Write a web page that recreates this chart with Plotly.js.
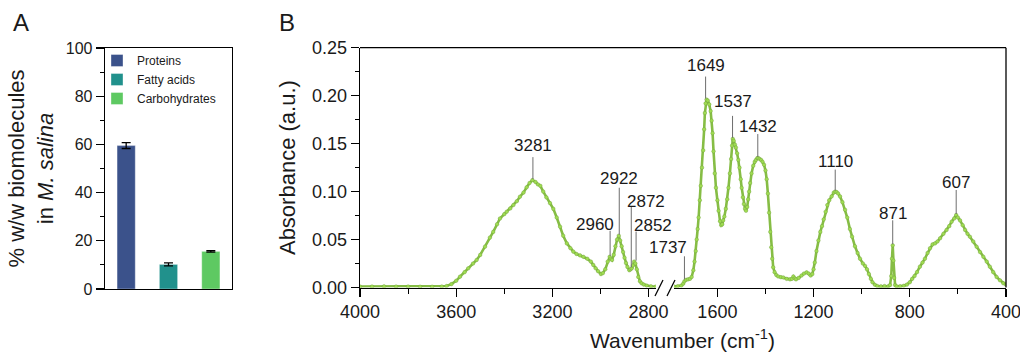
<!DOCTYPE html>
<html>
<head>
<meta charset="utf-8">
<script src="https://cdn.plot.ly/plotly-3.0.1.min.js"></script>
<style>html,body{margin:0;padding:0;background:#fff;}#chart{width:1020px;height:352px;}</style>
</head>
<body>
<div id="chart"></div>
<script>
// ---------- Panel A data ----------
const categories = ['Proteins', 'Fatty acids', 'Carbohydrates'];
const composition = [59.5, 10.2, 15.6];
const compositionErr = [1.2, 0.6, 0.3];
const barColors = ['#3b528b', '#21918c', '#5ec962'];

// ---------- Panel B data (FTIR spectrum) ----------
const wnHigh = [4000,3950,3900,3850,3800,3750,3700,3660,3640,3620,3600,3584,3565,3550,3530,3515,3500,3480,3460,3446,3430,3418,3400,3390,3375,3362,3348,3335,3320,3307,3295,3283,3270,3260,3250,3238,3225,3210,3196,3182,3168,3155,3140,3125,3113,3100,3085,3071,3055,3040,3030,3020,3010,2998,2990,2980,2970,2962,2957,2952,2945,2938,2931,2924,2918,2912,2906,2900,2894,2888,2880,2875,2870,2865,2860,2855,2849,2843,2836,2829,2820,2808,2790,2770];
const absHigh = [0.0010,0.0010,0.0012,0.0010,0.0010,0.0008,0.0008,0.0010,0.0015,0.0035,0.0070,0.0113,0.0160,0.0200,0.0250,0.0287,0.0340,0.0426,0.0520,0.0580,0.0660,0.0720,0.0765,0.0790,0.0825,0.0860,0.0900,0.0947,0.0990,0.1045,0.1090,0.1120,0.1100,0.1075,0.1060,0.1000,0.0940,0.0880,0.0820,0.0730,0.0634,0.0540,0.0460,0.0410,0.0374,0.0350,0.0335,0.0320,0.0300,0.0270,0.0235,0.0200,0.0170,0.0140,0.0150,0.0190,0.0270,0.0320,0.0300,0.0287,0.0340,0.0430,0.0500,0.0540,0.0490,0.0430,0.0370,0.0310,0.0255,0.0215,0.0180,0.0190,0.0200,0.0230,0.0270,0.0250,0.0190,0.0110,0.0065,0.0044,0.0030,0.0020,0.0012,0.0010];

const wnLow = [1780,1765,1750,1742,1737,1730,1722,1714,1707,1700,1695,1690,1686,1682,1678,1673,1669,1664,1659,1655,1652,1649,1645,1640,1634,1628,1624,1620,1616,1611,1606,1600,1595,1589,1584,1580,1576,1571,1565,1559,1554,1548,1543,1539,1536,1532,1527,1523,1518,1513,1508,1503,1499,1494,1490,1485,1481,1476,1472,1468,1464,1458,1451,1445,1440,1434,1430,1424,1418,1412,1406,1400,1395,1390,1385,1380,1376,1372,1368,1362,1355,1347,1336,1326,1312,1298,1290,1284,1278,1273,1262,1250,1240,1229,1220,1212,1205,1200,1195,1188,1180,1172,1165,1158,1150,1143,1135,1125,1116,1110,1104,1098,1090,1080,1069,1060,1049,1040,1028,1017,1007,995,986,978,970,962,955,945,935,920,905,890,882,877,874,871,868,865,861,855,840,825,812,800,790,780,770,758,747,737,726,716,705,695,685,674,660,647,636,626,615,607,600,591,580,570,560,550,536,522,508,494,480,467,453,439,425,411,400];
const absLow = [0.0010,0.0012,0.0020,0.0040,0.0065,0.0080,0.0085,0.0090,0.0110,0.0180,0.0270,0.0380,0.0500,0.0610,0.0730,0.0910,0.1060,0.1250,0.1430,0.1650,0.1820,0.1920,0.1960,0.1950,0.1910,0.1840,0.1740,0.1610,0.1420,0.1190,0.1040,0.0910,0.0800,0.0690,0.0650,0.0660,0.0700,0.0740,0.0820,0.0920,0.1040,0.1190,0.1340,0.1480,0.1550,0.1530,0.1490,0.1460,0.1400,0.1330,0.1250,0.1130,0.1040,0.0940,0.0870,0.0820,0.0800,0.0840,0.0920,0.1000,0.1090,0.1190,0.1270,0.1310,0.1330,0.1350,0.1350,0.1340,0.1330,0.1310,0.1280,0.1220,0.1130,0.0980,0.0780,0.0580,0.0420,0.0300,0.0210,0.0160,0.0130,0.0115,0.0108,0.0105,0.0090,0.0085,0.0090,0.0115,0.0095,0.0085,0.0100,0.0125,0.0145,0.0158,0.0145,0.0125,0.0140,0.0190,0.0260,0.0380,0.0490,0.0580,0.0640,0.0710,0.0790,0.0860,0.0910,0.0950,0.0990,0.1000,0.0995,0.0980,0.0950,0.0890,0.0810,0.0730,0.0610,0.0530,0.0430,0.0360,0.0300,0.0250,0.0225,0.0190,0.0140,0.0090,0.0055,0.0028,0.0015,0.0012,0.0015,0.0012,0.0025,0.0120,0.0300,0.0440,0.0280,0.0100,0.0025,0.0012,0.0012,0.0018,0.0030,0.0055,0.0090,0.0120,0.0160,0.0217,0.0260,0.0300,0.0360,0.0410,0.0450,0.0460,0.0480,0.0513,0.0560,0.0600,0.0640,0.0686,0.0720,0.0756,0.0730,0.0700,0.0650,0.0600,0.0560,0.0530,0.0480,0.0425,0.0370,0.0320,0.0270,0.0217,0.0160,0.0110,0.0075,0.0044,0.0030];

// Peak labels
const peakLabels = ['3281','2960','2922','2872','2852','1737','1649','1537','1432','1110','871','607'];
const peakWn = [3281, 2960, 2922, 2872, 2852, 1737, 1649, 1537, 1432, 1110, 871, 607];
const peakAbs = [0.112, 0.032, 0.054, 0.020, 0.027, 0.0075, 0.196, 0.155, 0.135, 0.100, 0.044, 0.0756];

// ---------- styling / layout constants ----------
const W = 1020, H = 352;
const px = v => v / W;
const py = v => (H - v) / H;
const FONT = '"Liberation Sans", Arial, Helvetica, sans-serif';
const TXT = '#1a1a1a';
const labelDx = [0, -15, 0, 15, 17, -16, 0, 0, 0, 0, 0, 0];
const labelDy = [35, 32, 57, 67, 36, 33, 34, 37, 32, 30, 32, 33];
const lineLen = [23, 26, 48, 62, 30, 24, 23, 23, 24, 22, 25, 25];

const domA_x = [px(105), px(232)];
const domA_y = [py(289), py(48)];
const domB1_x = [px(360), px(655.8)];
const domB2_x = [px(674.1), px(1006)];
const domB_y = [py(287.5), py(47.7)];

const traces = [];
categories.forEach((c, i) => {
  traces.push({
    type: 'bar', x: [c], y: [composition[i]], name: c,
    xaxis: 'x', yaxis: 'y', width: 0.43,
    marker: {color: barColors[i], line: {width: 0.6, color: 'rgba(255,255,255,0.6)'}},
    error_y: {type: 'data', array: [compositionErr[i]], visible: true, color: '#000', thickness: 1.3, width: 4.5},
    showlegend: true
  });
});

const specStyle = {
  mode: 'lines+markers',
  line: {color: '#86bd45', width: 2.6},
  marker: {size: 3.6, color: '#9fdc52', line: {width: 0.4, color: '#6f9c3c'}},
  showlegend: false, hoverinfo: 'skip'
};
traces.push(Object.assign({type: 'scatter', x: wnHigh, y: absHigh, xaxis: 'x2', yaxis: 'y2'}, specStyle));
traces.push(Object.assign({type: 'scatter', x: wnLow, y: absLow, xaxis: 'x3', yaxis: 'y2'}, specStyle));

const axisCommon = {
  showline: true, linecolor: '#000', linewidth: 1.3, zeroline: false, showgrid: false,
  ticks: 'outside', tickcolor: '#000', tickwidth: 1.2, ticklen: 8,
  ticklabeloverflow: 'allow',
  tickfont: {family: FONT, size: 18, color: TXT}
};

const annotations = [];
const shapes = [];
peakLabels.forEach((lab, i) => {
  const xa = peakWn[i] > 2000 ? 'x2' : 'x3';
  annotations.push({
    xref: xa, yref: 'y2', x: peakWn[i], y: peakAbs[i], text: lab, showarrow: false,
    xshift: labelDx[i], yshift: labelDy[i], xanchor: 'center', yanchor: 'middle',
    font: {family: FONT, size: 17, color: TXT}
  });
  shapes.push({
    type: 'line', xref: xa, yref: 'y2', ysizemode: 'pixel', yanchor: peakAbs[i],
    x0: peakWn[i], x1: peakWn[i], y0: 1, y1: lineLen[i],
    line: {color: '#6e6e6e', width: 1}
  });
});

// panel letters and shared x title
annotations.push({xref: 'paper', yref: 'paper', x: px(11), y: py(22), text: 'A', showarrow: false, xanchor: 'left', yanchor: 'middle', font: {family: FONT, size: 24, color: TXT}});
annotations.push({xref: 'paper', yref: 'paper', x: px(277), y: py(22), text: 'B', showarrow: false, xanchor: 'left', yanchor: 'middle', font: {family: FONT, size: 24, color: TXT}});
annotations.push({xref: 'paper', yref: 'paper', x: px(682), y: py(339), text: 'Wavenumber (cm<sup>-1</sup>)', showarrow: false, xanchor: 'center', yanchor: 'middle', font: {family: FONT, size: 21, color: TXT}});

// frame for panel B (top and right), and axis break marks
shapes.push({type: 'line', xref: 'paper', yref: 'paper', x0: domB1_x[0], x1: domB2_x[1], y0: domB_y[1], y1: domB_y[1], line: {color: '#000', width: 1.3}});
shapes.push({type: 'line', xref: 'paper', yref: 'paper', x0: domB2_x[1], x1: domB2_x[1], y0: domB_y[0], y1: domB_y[1], line: {color: '#000', width: 1.3}});
[655, 667].forEach(x0 => {
  shapes.push({type: 'line', xref: 'paper', yref: 'paper', x0: px(x0), x1: px(x0 + 8), y0: py(296), y1: py(280), line: {color: '#000', width: 1.2}});
});

const layout = {
  width: W, height: H,
  margin: {l: 0, r: 0, t: 0, b: 0},
  paper_bgcolor: '#fff', plot_bgcolor: 'rgba(0,0,0,0)',
  font: {family: FONT, color: TXT},
  barmode: 'overlay',
  showlegend: true,
  legend: {
    x: px(97), y: py(46), xanchor: 'left', yanchor: 'top',
    bgcolor: 'rgba(0,0,0,0)', borderwidth: 0,
    font: {family: FONT, size: 12, color: TXT}, tracegroupgap: 0
  },
  xaxis: Object.assign({}, axisCommon, {
    domain: domA_x, anchor: 'y', type: 'category',
    categoryorder: 'array', categoryarray: categories,
    range: [-0.5, 2.5], ticks: '', showticklabels: false, mirror: true
  }),
  yaxis: Object.assign({}, axisCommon, {
    domain: domA_y, anchor: 'x', range: [0, 100], dtick: 20, tick0: 0,
    tickfont: {family: FONT, size: 16, color: TXT}, mirror: true,
    minor: {dtick: 10, ticks: 'outside', ticklen: 4, tickwidth: 1.2, tickcolor: '#000'},
    title: {text: '% w/w biomolecules<br>in <i>M. salina</i>', font: {family: FONT, size: 22, color: TXT}, standoff: 6}
  }),
  xaxis2: Object.assign({}, axisCommon, {
    domain: domB1_x, anchor: 'y2', range: [4000, 2770], tick0: 400, dtick: 400,
    minor: {dtick: 200, ticks: 'outside', ticklen: 5, tickwidth: 1.2, tickcolor: '#000'}
  }),
  xaxis3: Object.assign({}, axisCommon, {
    domain: domB2_x, anchor: 'y2', range: [1780, 399.9], tick0: 400, dtick: 400,
    minor: {dtick: 200, ticks: 'outside', ticklen: 5, tickwidth: 1.2, tickcolor: '#000'}
  }),
  yaxis2: Object.assign({}, axisCommon, {
    domain: domB_y, anchor: 'x2', range: [0, 0.2501], dtick: 0.05, tick0: 0, tickformat: '.2f',
    minor: {dtick: 0.025, ticks: 'outside', ticklen: 4, tickwidth: 1.2, tickcolor: '#000'},
    title: {text: 'Absorbance (a.u.)', font: {family: FONT, size: 22, color: TXT}, standoff: 10}
  }),
  annotations: annotations,
  shapes: shapes
};

Plotly.newPlot('chart', traces, layout, {displayModeBar: false, staticPlot: true});
</script>
</body>
</html>
